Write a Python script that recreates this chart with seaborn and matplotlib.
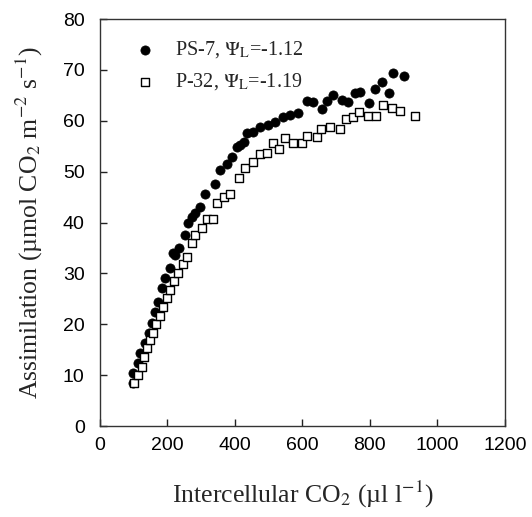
import pandas as pd
import matplotlib
matplotlib.use('Agg')
import matplotlib.pyplot as plt
import seaborn as sns

# PS-7 (filled circles)
ps7_ci = [98, 97, 113, 119, 133, 146, 153, 163, 172, 183, 193, 207, 217, 222, 234, 252,
          262, 272, 281, 296, 311, 341, 356, 376, 391, 406, 415, 427, 435, 454, 474, 498,
          519, 543, 563, 587, 613, 632, 657, 672, 692, 716, 735, 756, 770, 797, 815, 835,
          857, 868, 901]
ps7_a = [8.5, 10.4, 12.4, 14.3, 16.3, 18.3, 20.2, 22.4, 24.4, 27.1, 29.1, 31.1, 34.0, 33.6,
         35.0, 37.5, 40.0, 41.1, 41.8, 43.0, 45.6, 47.6, 50.3, 51.6, 52.8, 54.8, 55.2, 55.8,
         57.6, 57.8, 58.8, 59.2, 59.8, 60.7, 61.1, 61.6, 63.9, 63.7, 62.3, 64.0, 65.0, 64.1,
         63.7, 65.4, 65.6, 63.5, 66.2, 67.6, 65.4, 69.4, 68.8]

# P-32 (open squares)
p32_ci = [101, 113, 124, 130, 139, 148, 157, 166, 178, 187, 198, 207, 219, 231, 245, 257,
          272, 282, 303, 316, 336, 346, 368, 385, 413, 430, 454, 474, 494, 512, 530, 547,
          572, 598, 613, 642, 655, 683, 710, 728, 751, 768, 794, 819, 840, 865, 889, 935]
p32_a = [8.5, 10.0, 11.6, 13.6, 15.3, 16.9, 18.3, 20.0, 21.6, 23.4, 25.2, 26.7, 28.5, 30.1,
         31.9, 33.3, 35.9, 37.6, 39.0, 40.7, 40.7, 43.8, 45.0, 45.6, 48.7, 50.7, 51.9, 53.4,
         53.6, 55.6, 54.5, 56.7, 55.6, 55.7, 57.0, 56.8, 58.3, 58.8, 58.3, 60.4, 60.7, 61.7,
         60.9, 60.9, 63.1, 62.5, 61.9, 61.0]

x_ticks = [0, 200, 400, 600, 800, 1000, 1200]
y_ticks = [0, 10, 20, 30, 40, 50, 60, 70, 80]

sns.set_style('ticks')
plt.rcParams['font.family'] = ['Liberation Serif', 'DejaVu Serif']
plt.rcParams['mathtext.fontset'] = 'stix'

fig = plt.figure(figsize=(5.32, 5.17), dpi=100)
ax = fig.add_axes([0.188, 0.176, 0.761, 0.787])

sns.scatterplot(x=ps7_ci, y=ps7_a, ax=ax, marker='o', s=44, color='black',
                edgecolor='black', linewidth=0.5, label=r'PS-7, $\Psi_{\rm L}$=-1.12')
sns.scatterplot(x=p32_ci, y=p32_a, ax=ax, marker='s', s=36, facecolor='white',
                edgecolor='black', linewidth=1.0, label=r'P-32, $\Psi_{\rm L}$=-1.19')

ax.set_xlim(0, 1200)
ax.set_ylim(0, 80)
ax.set_xticks(x_ticks)
ax.set_yticks(y_ticks)

tick_font = ['Liberation Sans Narrow', 'Liberation Sans', 'DejaVu Sans']
ax.set_xticklabels([str(t) for t in x_ticks], family=tick_font, fontsize=14)
ax.set_yticklabels([str(t) for t in y_ticks], family=tick_font, fontsize=14)
ax.tick_params(direction='in', length=5, width=1, colors='#222222', labelcolor='black')
ax.tick_params(axis='x', pad=8)
ax.tick_params(axis='y', pad=11)

for sp in ax.spines.values():
    sp.set_visible(True)
    sp.set_linewidth(1.0)
    sp.set_color('#333333')

ax.set_xlabel('Intercellular CO$_2$ (µl l$^{-1}$)', fontsize=18.5)
ax.set_ylabel('Assimilation (µmol CO$_2$ m$^{-2}$ s$^{-1}$)', fontsize=18.5)
ax.xaxis.set_label_coords(0.5, -0.13)
ax.yaxis.set_label_coords(-0.135, 0.5)

ax.legend(loc='upper left', bbox_to_anchor=(0.067, 0.97), borderaxespad=0,
          frameon=False, fontsize=14.5, handlelength=1.0, handletextpad=1.0,
          labelspacing=0.55, markerscale=1.0)

plt.savefig('out.png', dpi=100)
